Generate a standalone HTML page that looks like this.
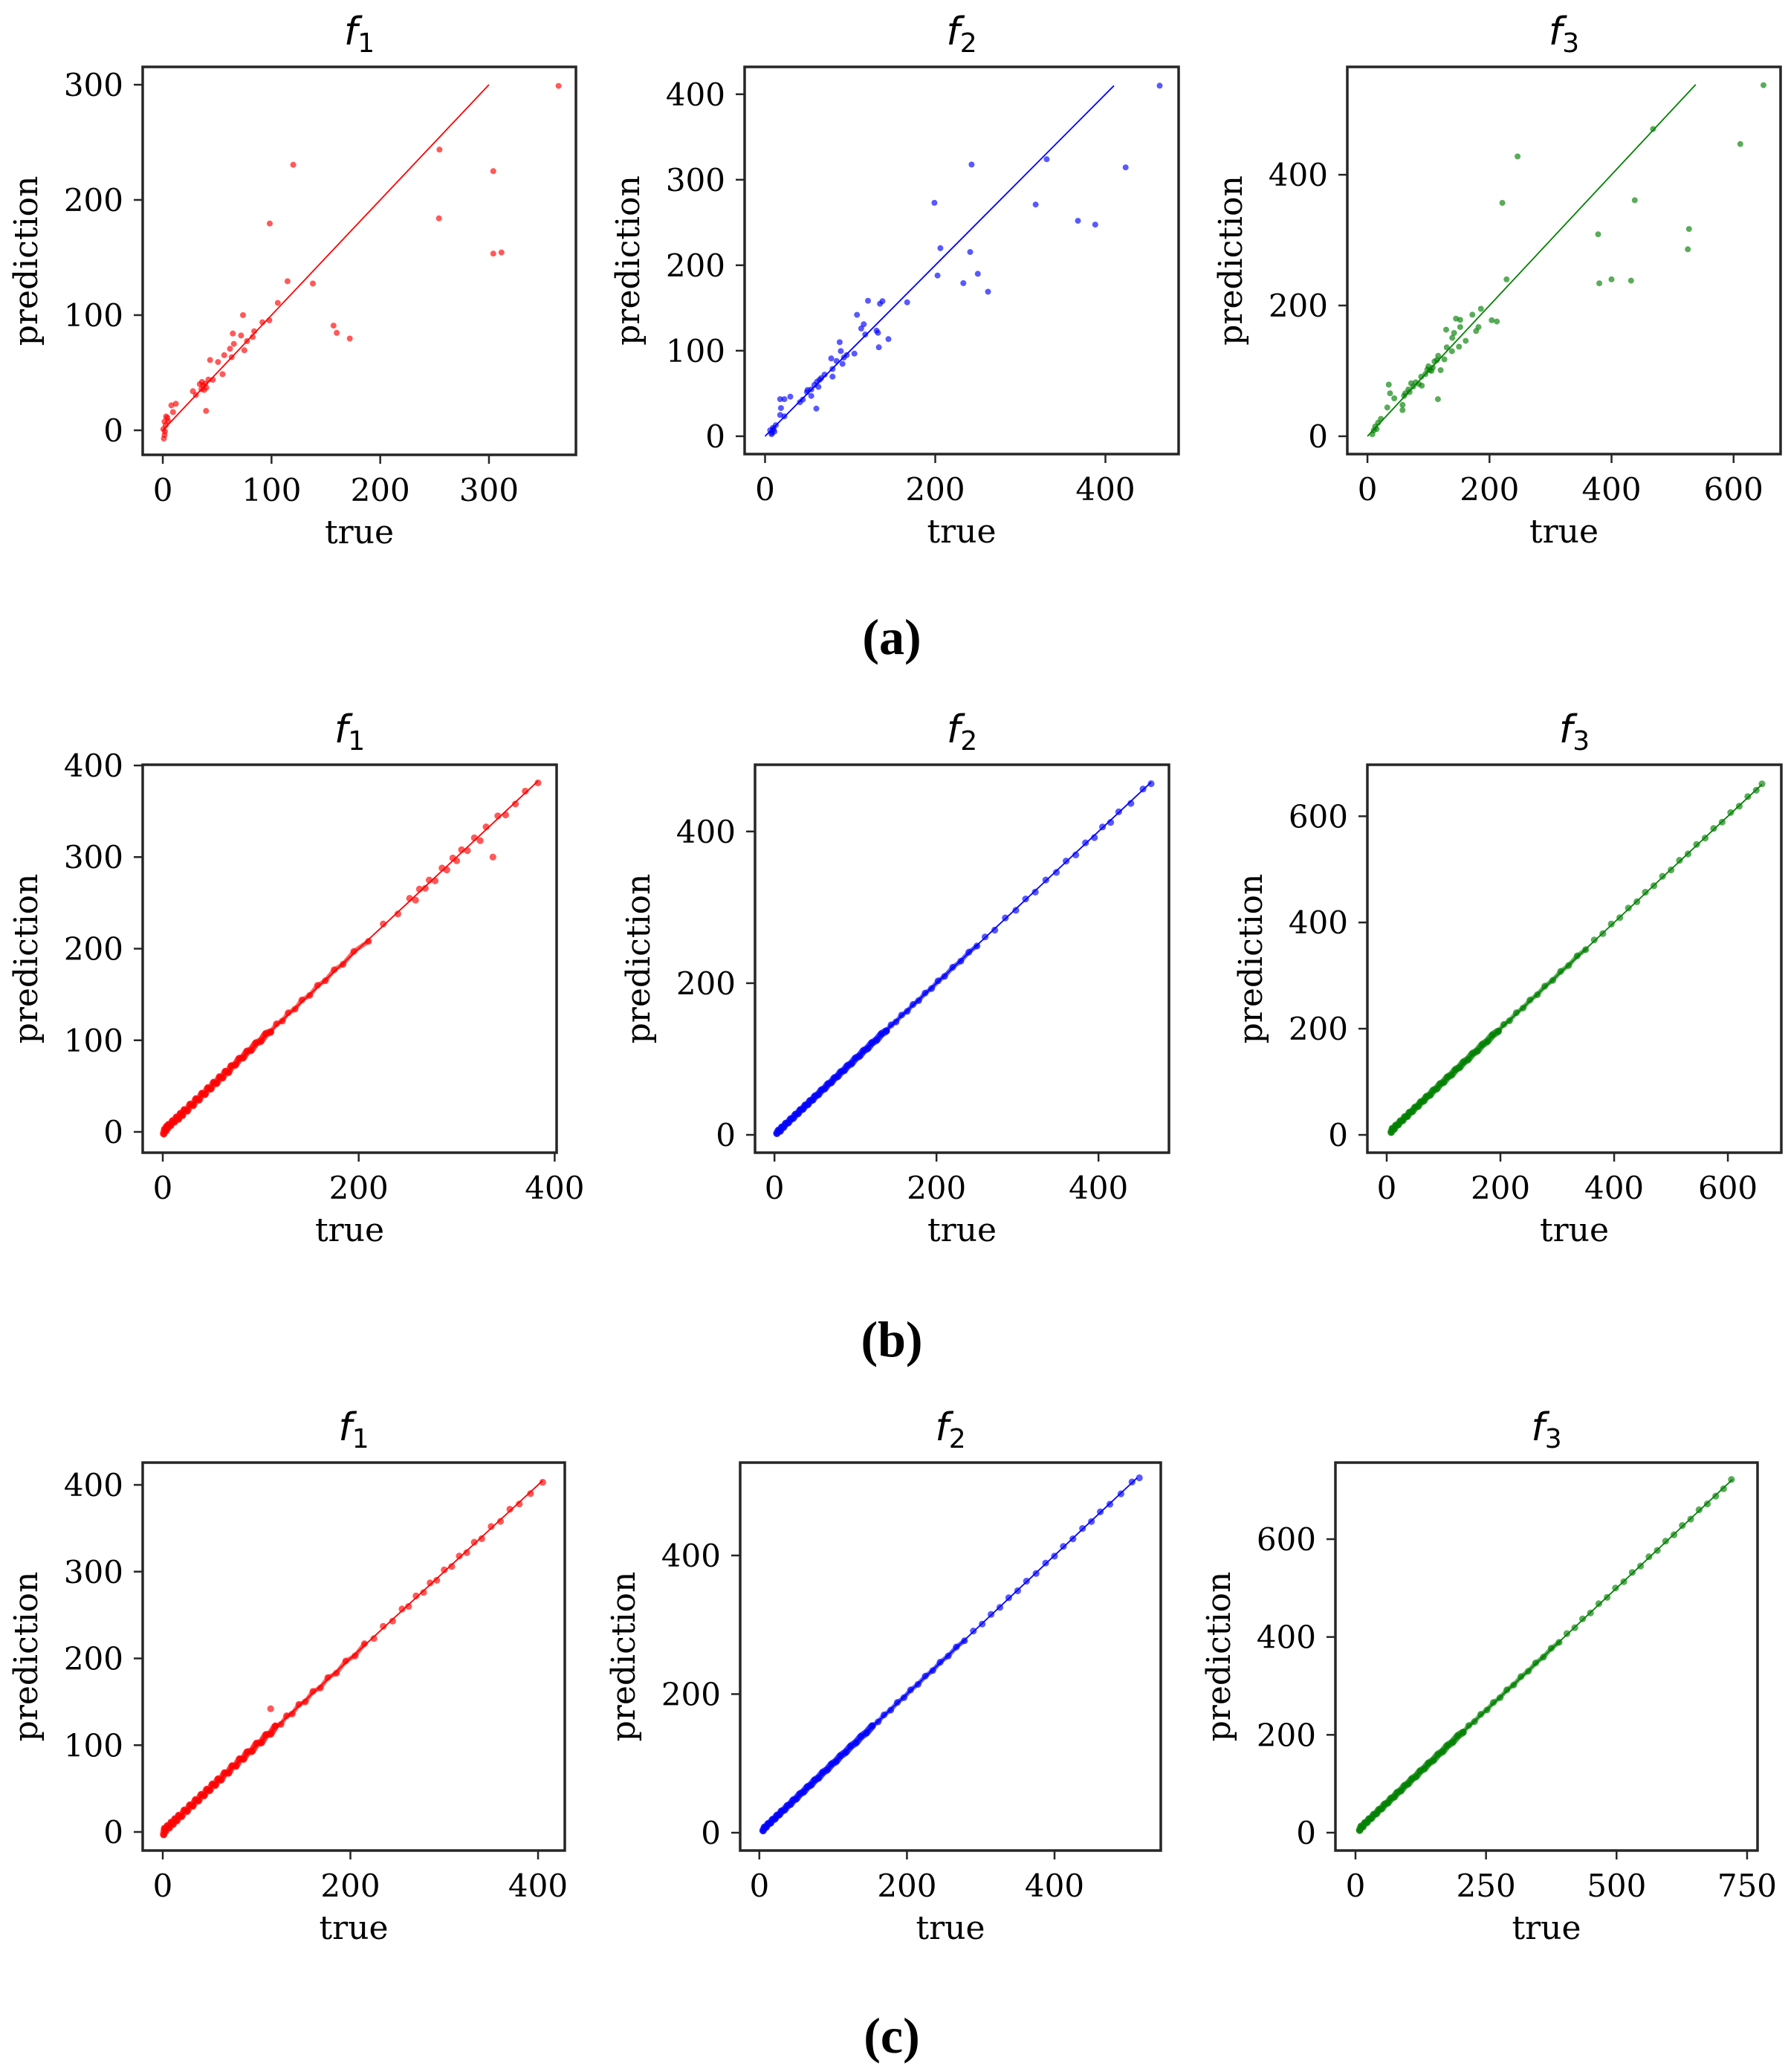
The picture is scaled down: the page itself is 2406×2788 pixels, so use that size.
<!DOCTYPE html>
<html><head><meta charset="utf-8"><style>
html,body{margin:0;padding:0;background:#fff;}
svg{display:block;}
</style></head><body>
<svg id="fig" width="2406" height="2788" viewBox="0 0 2406 2788" xmlns="http://www.w3.org/2000/svg">
<rect width="2406" height="2788" fill="#fff"/>
<text x="1200" y="880" text-anchor="middle" font-family="Liberation Serif, serif" font-weight="bold" font-size="68">(a)</text>
<text x="1200" y="1825" text-anchor="middle" font-family="Liberation Serif, serif" font-weight="bold" font-size="68">(b)</text>
<text x="1200" y="2762" text-anchor="middle" font-family="Liberation Serif, serif" font-weight="bold" font-size="68">(c)</text>
</svg>
<script>
// ---------- data ----------
const a1True=[364,254.5,304,120,254,98.4,304,311.5,114.7,138,105.8,157,160,172,73.8,98,91.6,84,82.7,72,77.5,75,65.4,64.4,61.8,56.5,63.4,50.8,43.5,55,46,39,35.6,30.4,27.7,37,39.8,12,7.9,9.4,4.2,1.6,0.5,1.6,2.6,1,3,2,5,36,40,42,34,38];
const a1Pred=[299,243.7,225,230.5,184,179.5,153.4,154.4,129.4,127.4,110.6,90.9,84.6,79.7,100,95.5,93.8,86,81,82.3,77.4,69.5,75,84,70.8,65.2,63.5,59.3,61,48.7,43.8,40.5,35.6,30.6,33.9,38.9,16.8,23,21.7,15.8,10.9,7.6,1,-4,4.3,-7.2,12,-1,8,42,37,44,40,35];
const a2True=[463.7,423.7,331,242.7,199,318,367.7,388,206,241,202.7,250,233,262,167,121,135,138,108,116,113,131,132.7,145,133.7,117.7,105,87.7,89,92.7,91,77.7,79.3,79.3,66,61,62.7,54.3,49.3,54.3,44.3,41,60.3,29.7,22.7,17.7,18.7,17.7,22.7,9.3,11,7.7,12.7,6,8,10,58,64,50,70,84,96];
const a2Pred=[410,314.5,324,317.8,273,271,252,247.5,220,215.5,188,190,179,169,156.6,158.4,155,158,142,131,126,123.5,121,113.6,104,119,96.6,110,99.6,92,84.6,91,78.6,69.7,68,63.7,57.7,54.7,51.7,47.2,42.8,39.8,32.3,46.3,43.3,43.3,32.9,24.8,23.3,9.9,5.4,2.4,12.9,6.9,4,8,60,66,54,72,88,95];
const a3True=[649,611,468,246,221,438,378,527,525,380,400,432,228,186,172,145,152,203.6,212,182,178,152,129,142,139,161,150,130,138.5,116,114,126,110,100,102,107,95,120,88,79,71.6,89,67,62,69,60,35,37,44,57.5,57.5,32.5,115.5,22,17.4,12.7,10.4,8,15,75,84,105,98];
const a3Pred=[537,447,470,428,357,361,309,317,286,234,240,238,240,195,186,180,178,177.5,175.5,167,161,167,163,158,150.5,146,137,136,130,123,116.5,117.7,114.5,107,101,105,95,101,91,82.5,81,77.4,71.5,65.7,67.6,61.8,79,65.7,58,48,40,44,56.7,26.6,20.7,14.9,9,3.1,11,76,80,100,102];
const b1True=[1,2,3,4,5,6,8,10,12,14,16,18,20,22,25,28,31,34,37,40,43,46,49,52,55,58,61,64,67,70,74,78,82,86,90,95,100,105,110,116,122,128,135,142,150,158,166,175,184,195,210,225,240,252,258,262,268,272,278,285,290,296,300,305,311,318,324,330,337,342,350,360,370,383];
const b1Pred=[-2,3,1,6,4,8,7,12,11,16,14,20,18,24,23,30,29,36,35,42,41,48,47,54,53,60,59,66,65,72,73,80,81,88,89,97,99,107,109,118,121,130,134,144,149,160,165,177,183,197,208,227,238,255,253,265,266,275,274,288,286,299,296,308,307,321,318,333,300,345,346,358,372,381];
const b2True=[3,5,7,9,11,14,17,20,23,26,29,32,35,38,41,44,47,50,54,58,62,66,70,74,78,82,86,90,95,100,105,110,115,120,126,132,138,144,150,157,164,171,178,186,194,202,210,220,230,240,250,260,272,285,298,310,322,335,348,360,372,384,395,405,415,425,440,455,465];
const b2Pred=[2,6,5,10,10,15,16,21,22,27,28,33,34,39,40,45,46,51,53,59,61,67,69,75,77,83,85,91,94,101,104,111,114,121,125,133,137,145,149,158,163,172,177,187,193,203,209,221,229,241,249,261,270,286,296,311,320,336,346,361,369,385,392,406,412,426,437,456,463];
const b3True=[8,10,13,16,20,24,28,32,36,40,45,50,55,60,65,70,76,82,88,94,100,107,114,121,128,135,143,151,159,168,177,186,196,206,216,228,240,252,265,278,292,306,320,335,350,365,380,395,410,425,440,455,470,485,500,515,530,545,560,575,590,605,620,635,650,660];
const b3Pred=[5,12,11,18,19,26,27,34,35,42,44,52,54,62,64,72,75,84,87,96,99,109,113,123,127,137,142,153,158,170,176,188,195,208,215,230,239,254,264,280,291,308,319,337,349,367,379,397,409,427,439,457,469,487,499,517,529,547,559,577,589,607,619,637,649,661];
const c1True=[1,2,3,5,7,9,11,13,15,17,20,23,26,29,32,35,38,41,44,47,50,53,56,59,62,66,70,74,78,82,86,90,95,100,105,110,115,115,120,126,132,138,145,152,160,168,176,185,195,205,215,225,235,245,255,262,270,278,285,292,300,308,316,324,332,340,350,360,370,380,392,405];
const c1Pred=[-3,4,1,7,5,11,9,15,13,19,18,25,24,31,30,37,36,43,42,49,48,55,54,61,60,68,68,76,76,84,84,92,93,102,103,112,113,142,122,124,134,136,147,150,162,166,178,183,197,203,217,223,237,243,257,260,272,276,287,290,302,306,318,322,334,338,352,358,372,378,390,403];
const c2True=[5,7,9,12,15,18,21,24,27,30,34,38,42,46,50,55,60,65,70,75,80,86,92,98,104,110,117,124,131,138,145,153,161,169,178,187,196,205,215,225,235,245,256,267,278,290,302,314,326,338,350,362,375,388,400,412,425,438,450,462,475,490,505,515];
const c2Pred=[3,8,8,13,14,19,20,25,26,31,33,39,41,47,49,56,59,66,69,76,79,87,91,99,103,111,116,125,130,139,144,154,160,170,177,188,195,206,214,226,234,246,255,268,277,291,301,315,325,339,349,363,374,389,399,413,424,439,449,463,474,489,506,512];
const c3True=[8,11,14,18,22,26,30,35,40,45,50,56,62,68,74,80,87,94,101,108,116,124,132,140,149,158,167,176,186,196,206,217,228,240,252,264,277,290,303,317,331,345,360,375,390,405,420,435,450,466,482,498,514,530,546,562,578,594,610,626,642,658,674,690,705,720];
const c3Pred=[5,13,12,20,21,28,29,37,39,47,49,58,61,70,73,82,86,96,100,110,115,126,131,142,148,160,166,178,185,198,205,219,227,242,251,266,276,292,302,319,330,347,359,377,389,407,419,437,449,468,481,500,513,532,545,564,577,596,609,628,641,660,672,688,703,722];
const a1XTicks=[0,100,200,300], a1YTicks=[0,100,200,300];
const a2XTicks=[0,200,400], a2YTicks=[0,100,200,300,400];
const a3XTicks=[0,200,400,600], a3YTicks=[0,200,400];
const b1XTicks=[0,200,400], b1YTicks=[0,100,200,300,400];
const b2XTicks=[0,200,400], b2YTicks=[0,200,400];
const b3XTicks=[0,200,400,600], b3YTicks=[0,200,400,600];
const c1XTicks=[0,200,400], c1YTicks=[0,100,200,300,400];
const c2XTicks=[0,200,400], c2YTicks=[0,200,400];
const c3XTicks=[0,250,500,750], c3YTicks=[0,200,400,600];
const a1Line=[0,300], a2Line=[0,410], a3Line=[0,538];
const b1Line=[0,383], b2Line=[3,465], b3Line=[5,660];
const c1Line=[0,405], c2Line=[3,512], c3Line=[5,722];

const panels=[
 {id:'a1',sub:'1',c:'#ff0000',l:192,r:775,t:90,b:612,xd:[-18.5,380],yd:[-21.3,315.5],X:a1True,Y:a1Pred,xt:a1XTicks,yt:a1YTicks,ln:a1Line,dense:false},
 {id:'a2',sub:'2',c:'#0000ff',l:1002,r:1586,t:90,b:611,xd:[-24,486],yd:[-20.9,432],X:a2True,Y:a2Pred,xt:a2XTicks,yt:a2YTicks,ln:a2Line,dense:false},
 {id:'a3',sub:'3',c:'#008000',l:1813,r:2396,t:90,b:611,xd:[-33,677],yd:[-27.3,565],X:a3True,Y:a3Pred,xt:a3XTicks,yt:a3YTicks,ln:a3Line,dense:false},
 {id:'b1',sub:'1',c:'#ff0000',l:192,r:749,t:1029,b:1551,xd:[-20.5,402],yd:[-22.7,400.8],X:b1True,Y:b1Pred,xt:b1XTicks,yt:b1YTicks,ln:b1Line,dense:true},
 {id:'b2',sub:'2',c:'#0000ff',l:1016,r:1573,t:1029,b:1551,xd:[-24,487],yd:[-23.5,488],X:b2True,Y:b2Pred,xt:b2XTicks,yt:b2YTicks,ln:b2Line,dense:true},
 {id:'b3',sub:'3',c:'#008000',l:1840,r:2397,t:1029,b:1551,xd:[-34,694],yd:[-33.5,697],X:b3True,Y:b3Pred,xt:b3XTicks,yt:b3YTicks,ln:b3Line,dense:true},
 {id:'c1',sub:'1',c:'#ff0000',l:192,r:760,t:1968,b:2490,xd:[-21.4,428.5],yd:[-21.4,425.7],X:c1True,Y:c1Pred,xt:c1XTicks,yt:c1YTicks,ln:c1Line,dense:true},
 {id:'c2',sub:'2',c:'#0000ff',l:996,r:1562,t:1968,b:2490,xd:[-26,544],yd:[-25.7,534],X:c2True,Y:c2Pred,xt:c2XTicks,yt:c2YTicks,ln:c2Line,dense:true},
 {id:'c3',sub:'3',c:'#008000',l:1797,r:2365,t:1968,b:2490,xd:[-38.4,770],yd:[-36.5,756.5],X:c3True,Y:c3Pred,xt:c3XTicks,yt:c3YTicks,ln:c3Line,dense:true}
];
const NS='http://www.w3.org/2000/svg';
const svg=document.getElementById('fig');
function mk(tag,attrs,parent){const e=document.createElementNS(NS,tag);for(const k in attrs)e.setAttribute(k,attrs[k]);(parent||svg).appendChild(e);return e;}
const SERIF='DejaVu Serif, Liberation Serif, serif';
panels.forEach(p=>{
  const sx=v=>p.l+(v-p.xd[0])/(p.xd[1]-p.xd[0])*(p.r-p.l);
  const sy=v=>p.b-(v-p.yd[0])/(p.yd[1]-p.yd[0])*(p.b-p.t);
  const g=mk('g',{});
  
  
  const n=Math.min(p.X.length,p.Y.length);
  if(p.dense){
    // dense band: polylines through near-diagonal points, tapering in width
    const tol=p.ln[1]*0.05;
    [[0.55,6,0.6],[0.3,10,0.75]].forEach(([frac,w,op])=>{
      let pts=[];
      for(let i=0;i<n;i++){
        if(p.X[i]<=p.ln[1]*frac && Math.abs(p.Y[i]-p.X[i])<tol) pts.push(sx(p.X[i]).toFixed(1)+','+sy(p.Y[i]).toFixed(1));
      }
      const band=mk('polyline',{points:pts.join(' '),fill:'none',stroke:p.c,'stroke-width':w,'stroke-opacity':op,'stroke-linecap':'round','stroke-linejoin':'round'},g);
      
      
    });
  }
  const rad=p.dense?4.6:4;
  for(let i=0;i<n;i++){
    const d=mk('circle',{cx:sx(p.X[i]).toFixed(1),cy:sy(p.Y[i]).toFixed(1),r:rad,fill:p.c,'fill-opacity':0.65},g);
    
    
  }
  const ln=mk('line',{x1:sx(p.ln[0]),y1:sy(p.ln[0]),x2:sx(p.ln[1]),y2:sy(p.ln[1]),stroke:p.c,'stroke-width':1.8},g);
  
  
  const fr=mk('rect',{x:p.l,y:p.t,width:p.r-p.l,height:p.b-p.t,fill:'none',stroke:'#262626','stroke-width':3.5},g);
  
  
  p.xt.forEach(v=>{
    const x=sx(v);
    const tk=mk('line',{x1:x,y1:p.b,x2:x,y2:p.b+12,stroke:'#262626','stroke-width':2.5},g);
    
    
    const tl=mk('text',{x:x,y:p.b+62,'text-anchor':'middle','font-family':SERIF,'font-size':42,fill:'#000'},g);
    
    
    tl.textContent=String(v);
  });
  p.yt.forEach(v=>{
    const y=sy(v);
    const tk=mk('line',{x1:p.l-12,y1:y,x2:p.l,y2:y,stroke:'#262626','stroke-width':2.5},g);
    
    
    const tl=mk('text',{x:p.l-26,y:y+15,'text-anchor':'end','font-family':SERIF,'font-size':42,fill:'#000'},g);
    
    
    tl.textContent=String(v);
  });
  const cx=(p.l+p.r)/2, cy=(p.t+p.b)/2;
  const xl=mk('text',{x:cx,y:p.b+119,'text-anchor':'middle','font-family':SERIF,'font-size':44,fill:'#000'},g);
  
  
  xl.textContent='true';
  const yx=p.l-142;
  const yl=mk('text',{x:yx,y:cy,'text-anchor':'middle','font-family':SERIF,'font-size':44,fill:'#000',transform:'rotate(-90 '+yx+' '+cy+')'},g);
  
  
  yl.textContent='prediction';
  const tt=mk('text',{x:cx,y:p.t-30,'text-anchor':'middle','font-family':'DejaVu Sans, Liberation Sans, sans-serif','font-size':52,fill:'#000'},g);
  
  
  const f=mk('tspan',{'font-style':'italic'},tt); f.textContent='f';
  const s=mk('tspan',{'font-size':36,dy:10},tt); s.textContent=p.sub;
});
</script>
</body></html>
